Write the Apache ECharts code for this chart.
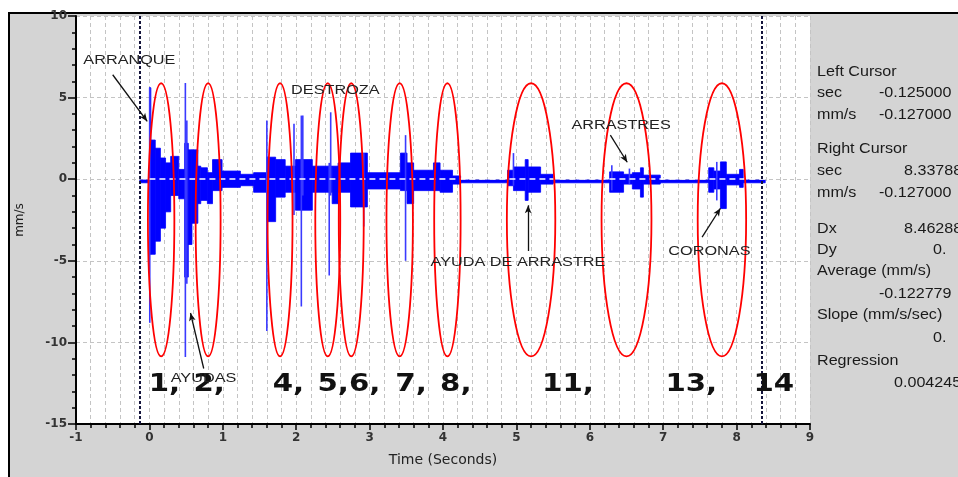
<!DOCTYPE html>
<html>
<head>
<meta charset="utf-8">
<script src="https://cdn.jsdelivr.net/npm/echarts@6/dist/echarts.min.js"></script>
<style>
  html, body { margin: 0; padding: 0; background: #fff; }
  #frame { position: absolute; left: 8px; top: 12px; width: 950px; height: 465px; box-sizing: border-box;
           background: #d4d4d4; border-top: 2px solid #000; border-left: 2px solid #000; }
  #chart { position: absolute; left: 0; top: 0; width: 958px; height: 477px; }
</style>
</head>
<body>
<div id="frame"></div>
<div id="chart"></div>
<script>
// signal envelope: start/end time (s), top and bottom (mm/s)
const segStart = [-0.13, 0.00, 0.02, 0.08, 0.15, 0.22, 0.29, 0.40, 0.48, 0.53, 0.58, 0.66, 0.70, 0.79, 0.86, 0.99, 1.24, 1.42,
                  1.60, 1.72, 1.85, 1.99, 2.22, 2.49, 2.57, 2.74, 2.97, 3.42, 3.51, 3.60, 3.87, 3.96, 4.13, 4.24, 4.88, 4.96,
                  5.12, 5.16, 5.33, 5.50, 6.27, 6.46, 6.58, 6.69, 6.73, 6.96, 7.62, 7.69, 7.78, 7.86, 8.04, 8.09];
const segEnd   = [0.00, 0.02, 0.08, 0.15, 0.22, 0.29, 0.40, 0.48, 0.53, 0.58, 0.66, 0.70, 0.79, 0.86, 0.99, 1.24, 1.42, 1.60,
                  1.72, 1.85, 1.99, 2.22, 2.49, 2.57, 2.74, 2.97, 3.42, 3.51, 3.60, 3.87, 3.96, 4.13, 4.24, 4.88, 4.96, 5.12,
                  5.16, 5.33, 5.50, 6.27, 6.46, 6.58, 6.69, 6.73, 6.96, 7.62, 7.69, 7.78, 7.86, 8.04, 8.09, 8.39];
const segHigh  = [-0.05, 5.6, 2.4, 1.9, 1.3, 1.0, 1.4, 0.6, 2.2, 1.8, 1.8, 0.8, 0.7, 0.4, 1.2, 0.5, 0.3, 0.4,
                  1.35, 1.2, 0.8, 1.2, 0.8, 0.8, 1.0, 1.6, 0.4, 1.6, 1.0, 0.55, 1.0, 0.55, 0.2, -0.05, 0.55, 0.75,
                  1.2, 0.75, 0.3, -0.05, 0.45, 0.3, 0.4, 0.7, 0.25, -0.05, 0.7, 0.5, 1.06, 0.3, 0.6, -0.05];
const segLow   = [-0.22, -4.6, -4.6, -3.8, -3.0, -2.0, -1.0, -1.2, -6.0, -4.0, -2.7, -1.5, -1.3, -1.5, -0.7, -0.5, -0.4, -0.8,
                  -2.6, -1.1, -0.8, -1.9, -0.8, -1.5, -0.8, -1.7, -0.6, -0.7, -1.5, -0.7, -0.7, -0.8, -0.3, -0.22, -0.4, -0.7,
                  -1.3, -0.8, -0.3, -0.22, -0.8, -0.3, -0.6, -1.1, -0.3, -0.22, -0.8, -0.6, -1.8, -0.35, -0.5, -0.22];

// single tall spikes
const spikeTime = [0.005, 0.49, 0.51, 1.60, 1.97, 2.07, 2.09, 2.45, 2.47, 2.92, 3.49, 4.96, 6.30, 6.54, 7.73];
const spikeHigh = [5.65, 5.9, 3.6, 3.6, 3.4, 3.9, 3.9, 1.0, 4.1, 1.6, 2.7, 1.6, 0.85, 0.65, 1.06];
const spikeLow  = [-8.8, -10.9, -6.4, -9.3, -2.2, -7.8, -1.0, -5.9, -1.0, -2.9, -5.0, -0.4, -0.7, -0.3, -1.3];

// red ellipses
const ellipseX = [0.16, 0.80, 1.78, 2.43, 2.75, 3.41, 4.06, 5.20, 6.50, 7.80];
const ellipseHalfW = [0.18, 0.17, 0.17, 0.17, 0.17, 0.18, 0.18, 0.33, 0.34, 0.33];
const ellipseY = -2.49;
const ellipseHalfH = 8.37;

// cursors
const cursorX = [-0.125, 8.3378];

// annotations
const noteText = ['ARRANQUE', 'DESTROZA', 'ARRASTRES', 'AYUDA DE ARRASTRE', 'CORONAS', 'AYUDAS'];
const noteX = [-0.90, 1.93, 5.75, 3.83, 7.07, 0.29];
const noteY = [7.29, 5.45, 3.31, -5.09, -4.41, -12.19];
const arrowFrom = [[-0.50, 6.4], [0.74, -11.6], [5.16, -4.4], [6.28, 2.7], [7.53, -3.55]];
const arrowTo   = [[-0.03, 3.55], [0.56, -8.2], [5.16, -1.6], [6.51, 1.04], [7.78, -1.78]];

// big numbers under the ellipses
const markText = ['1,', '2,', '4,', '5,6,', '7,', '8,', '11,', '13,', '14'];
const markX = [-0.01, 0.60, 1.68, 2.29, 3.35, 3.96, 5.35, 7.03, 8.23];
const markY = -12.56;

// side panel
const panelLabels = ['Left Cursor', 'sec', 'mm/s', 'Right Cursor', 'sec', 'mm/s', 'Dx', 'Dy', 'Average (mm/s)', '',
                     'Slope (mm/s/sec)', '', 'Regression', ''];
const panelValues = ['', '-0.125000', '-0.127000', '', '8.33788', '-0.127000', '8.46288', '0.', '', '-0.122779',
                     '', '0.', '', '0.004245'];


const panelRowY = [72, 93, 115, 149, 171, 193, 229, 250, 271, 294, 315, 338, 361, 383];
const panelValueX = [0, 879, 879, 0, 904, 879, 904, 933, 0, 879, 0, 933, 0, 894];

const chart = echarts.init(document.getElementById('chart'));

const panelGraphics = [];
panelLabels.forEach((t, i) => {
    const base = {fontSize: 14, fontFamily: 'Liberation Sans', fill: '#1a1a1a', verticalAlign: 'middle'};
    if (t) panelGraphics.push({type: 'text', x: 817, y: panelRowY[i], scaleX: 1.15, style: {...base, text: t}});
    if (panelValues[i]) panelGraphics.push({type: 'text', x: panelValueX[i], y: panelRowY[i], scaleX: 1.15,
        style: {...base, text: panelValues[i]}});
});

const gridLine = {color: '#c4c4c4', type: [4, 3], width: 1};

const option = {
    backgroundColor: 'transparent',
    animation: false,
    grid: {left: 76, top: 16, right: 148, bottom: 53, show: true, backgroundColor: '#fff', borderWidth: 0},
    xAxis: {
        type: 'value', min: -1, max: 9, interval: 1,
        name: 'Time (Seconds)', nameLocation: 'middle', nameGap: 29,
        nameTextStyle: {fontFamily: 'DejaVu Sans', fontSize: 14, color: '#222'},
        axisLine: {show: true, onZero: false, lineStyle: {color: '#000', width: 2}},
        axisTick: {show: true, length: 6, lineStyle: {color: '#000', width: 1.5}},
        minorTick: {show: true, splitNumber: 5, length: 4, lineStyle: {color: '#000', width: 1.5}},
        splitLine: {show: true, lineStyle: gridLine},
        minorSplitLine: {show: true, lineStyle: gridLine},
        axisLabel: {fontFamily: 'DejaVu Sans', fontSize: 12, fontWeight: 'bold', color: '#333', margin: 8}
    },
    yAxis: {
        type: 'value', min: -15, max: 10, interval: 5,
        name: 'mm/s', nameLocation: 'middle', nameGap: 50, nameRotate: 90,
        nameTextStyle: {fontFamily: 'DejaVu Sans', fontSize: 12, color: '#222'},
        axisLine: {show: true, onZero: false, lineStyle: {color: '#000', width: 2}},
        axisTick: {show: true, length: 8, lineStyle: {color: '#000', width: 1.5}},
        minorTick: {show: true, splitNumber: 5, length: 4, lineStyle: {color: '#000', width: 1.5}},
        splitLine: {show: true, lineStyle: gridLine},
        axisLabel: {fontFamily: 'DejaVu Sans', fontSize: 12, fontWeight: 'bold', color: '#333', margin: 9}
    },
    graphic: panelGraphics,
    series: [
        {
            // envelope blocks of the vibration record
            type: 'custom', z: 3, silent: true,
            encode: {x: [0, 1], y: [2, 3]},
            data: segStart.map((t, i) => [t, segEnd[i], segHigh[i], segLow[i]]),
            renderItem: (params, api) => {
                const a = api.coord([api.value(0), api.value(2)]);
                const b = api.coord([api.value(1), api.value(3)]);
                return {type: 'rect',
                    shape: {x: a[0], y: a[1], width: Math.max(b[0] - a[0], 1), height: Math.max(b[1] - a[1], 1.5)},
                    style: {fill: '#0000ff', stroke: '#0000ff', lineWidth: 0.8}};
            }
        },
        {
            type: 'custom', z: 3, silent: true,
            encode: {x: 0, y: [1, 2]},
            data: spikeTime.map((t, i) => [t, spikeHigh[i], spikeLow[i]]),
            renderItem: (params, api) => {
                const a = api.coord([api.value(0), api.value(1)]);
                const b = api.coord([api.value(0), api.value(2)]);
                return {type: 'line', shape: {x1: a[0], y1: a[1], x2: b[0], y2: b[1]},
                    style: {stroke: '#3a3aff', lineWidth: 1.6}};
            }
        },
        {
            type: 'line', data: [], z: 4, silent: true,
            markLine: {
                silent: true, symbol: ['none', 'none'], label: {show: false}, animation: false,
                lineStyle: {color: '#fff', type: [6, 4], width: 1.5},
                data: [[{coord: [0, 0]}, {coord: [8.39, 0]}]]
            }
        },
        {
            type: 'custom', z: 5, silent: true,
            encode: {x: 0, y: 1},
            data: ellipseX.map((x, i) => [x, ellipseY, ellipseHalfW[i], ellipseHalfH]),
            renderItem: (params, api) => {
                const c = api.coord([api.value(0), api.value(1)]);
                const s = api.size([api.value(2), api.value(3)]);
                return {type: 'ellipse', shape: {cx: c[0], cy: c[1], rx: s[0], ry: s[1]},
                    style: {fill: 'none', stroke: '#ff0000', lineWidth: 1.8}};
            }
        },
        {
            type: 'line', data: [], z: 6, silent: true,
            markLine: {
                silent: true, symbol: ['none', 'none'], label: {show: false}, animation: false,
                lineStyle: {color: '#14143c', type: [3, 2], width: 2},
                data: cursorX.map(x => ({xAxis: x}))
            }
        },
        {
            type: 'line', data: [], z: 7, silent: true,
            markLine: {
                silent: true, symbol: ['none', 'arrow'], symbolSize: [5, 8], label: {show: false}, animation: false,
                lineStyle: {color: '#111', type: 'solid', width: 1.3},
                data: arrowFrom.map((f, i) => [{coord: f}, {coord: arrowTo[i]}])
            }
        },
        {
            type: 'custom', z: 8, silent: true,
            encode: {x: 0, y: 1},
            data: markX.map((x, i) => [x, markY, i]),
            renderItem: (params, api) => {
                const p = api.coord([api.value(0), api.value(1)]);
                return {type: 'text', x: p[0], y: p[1], scaleX: 1.17,
                    style: {text: markText[api.value(2)], fontFamily: 'DejaVu Sans', fontWeight: 'bold', fontSize: 25,
                        fill: '#111', align: 'left', verticalAlign: 'middle'}};
            }
        },
        {
            type: 'custom', z: 9, silent: true,
            encode: {x: 0, y: 1},
            data: noteX.map((x, i) => [x, noteY[i], i]),
            renderItem: (params, api) => {
                const p = api.coord([api.value(0), api.value(1)]);
                return {type: 'text', x: p[0], y: p[1], scaleX: 1.3,
                    style: {text: noteText[api.value(2)], fontFamily: 'Liberation Sans', fontSize: 12.5,
                        fill: '#222', align: 'left', verticalAlign: 'middle'}};
            }
        }
    ]
};

chart.setOption(option);
</script>
</body>
</html>
